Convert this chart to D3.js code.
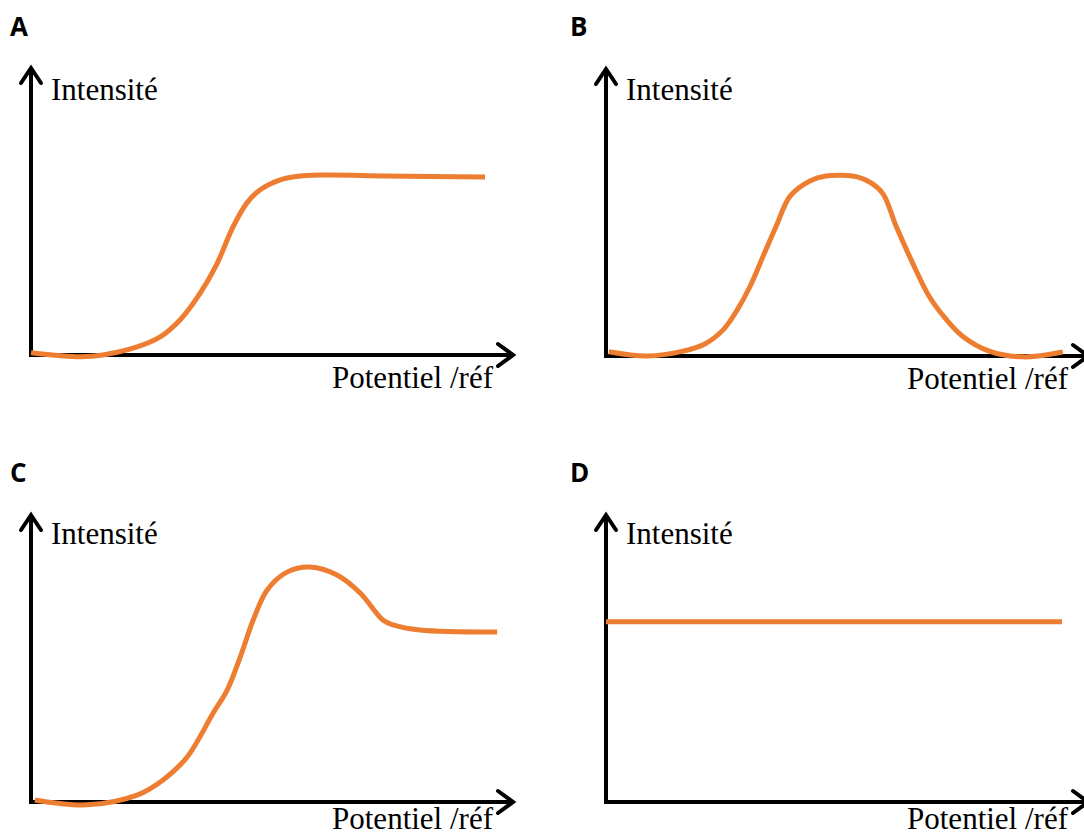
<!DOCTYPE html>
<html>
<head>
<meta charset="utf-8">
<script src="https://cdn.jsdelivr.net/npm/d3@7"></script>
<style>
  html, body { margin: 0; padding: 0; background: #fff; }
  svg { display: block; }
</style>
</head>
<body>
<svg id="chart" width="1084" height="836"></svg>
<script>
// ---- Data (potential on 0..100, intensity on 0..100) ----
const panelNames = ["A", "B", "C", "D"];
const axisTitleY = "Intensité";
const axisTitleX = "Potentiel /réf";

const potentialA = [0, 10.2, 14.9, 22, 26.8, 30.9, 35.1, 38.5, 41.9, 44.8, 47.5, 51.7, 55, 60, 73.9, 94.2];
const intensityA = [0.8, -0.6, 0, 2.8, 6.3, 12.2, 21.6, 31.5, 44.6, 53, 57.5, 61, 62.2, 62.7, 62.4, 62];

const potentialB = [0.6, 8.5, 16, 20.5, 24.3, 27.2, 29.9, 32.6, 35.3, 38.2, 42.3, 45.6, 52.1, 55, 57.5, 60.2, 63.5, 67, 70.5, 73.9, 79.5, 86.5, 94.8];
const intensityB = [1.5, 0, 1.7, 4.2, 9.1, 16, 24.3, 34.8, 45.2, 55.7, 61, 62.7, 62.4, 60.3, 56.4, 45.2, 32.8, 20.9, 12.9, 7, 1.7, -0.3, 1.4];

const potentialC = [0.8, 11.6, 22, 27.4, 32.4, 37.8, 40.7, 43.4, 46.1, 49, 53.1, 57.9, 63.5, 68.3, 73, 75.1, 80.7, 96.7];
const intensityC = [0.7, -1, 2.4, 7.7, 15.7, 31, 39, 50.5, 63.4, 73.9, 80.1, 81.9, 79.1, 72.8, 63.4, 61.7, 59.9, 59.2];

const potentialD = [0, 94.6];
const intensityD = [62.8, 62.8];

const series = {
  A: { x: potentialA, y: intensityA },
  B: { x: potentialB, y: intensityB },
  C: { x: potentialC, y: intensityC },
  D: { x: potentialD, y: intensityD }
};

// ---- Layout ----
const layout = {
  A: { ox: 31,  oy: 355, lx: 10,  ly: 36,  iy: 100, py: 388 },
  B: { ox: 606, oy: 356, lx: 570, ly: 36,  iy: 100, py: 389 },
  C: { ox: 31,  oy: 802, lx: 10,  ly: 482, iy: 544, py: 829 },
  D: { ox: 606, oy: 802, lx: 570, ly: 482, iy: 544, py: 829 }
};
const W = 482, H = 287;
const orange = "#ED7D31";

const svg = d3.select("#chart");

panelNames.forEach(name => {
  const L = layout[name];
  const x = d3.scaleLinear().domain([0, 100]).range([L.ox, L.ox + W]);
  const y = d3.scaleLinear().domain([0, 100]).range([L.oy, L.oy - H]);
  const g = svg.append("g");

  // panel letter
  g.append("text")
    .attr("x", L.lx).attr("y", L.ly)
    .attr("font-family", "'Open Sans', 'Liberation Sans', sans-serif")
    .attr("font-weight", 700)
    .attr("font-size", 26)
    .attr("fill", "#000")
    .text(name);

  // axes (no ticks), thick black lines
  const xAxis = g.append("g").attr("transform", `translate(0,${L.oy})`)
    .call(d3.axisBottom(x).tickValues([]).tickSizeOuter(0));
  const yAxis = g.append("g").attr("transform", `translate(${L.ox},0)`)
    .call(d3.axisLeft(y).tickValues([]).tickSizeOuter(0));
  [xAxis, yAxis].forEach(a => a.select(".domain")
    .attr("stroke", "#000").attr("stroke-width", 4));
  yAxis.select(".domain").attr("d", `M0,${L.oy + 2}V${y(100)}`);
  xAxis.select(".domain").attr("d", `M${L.ox - 2},0H${x(100)}`);

  // arrowheads
  const tipX = x(100), tipY = y(100);
  g.append("path")
    .attr("d", `M${tipX - 15},${L.oy - 11}L${tipX},${L.oy}L${tipX - 15},${L.oy + 11}`)
    .attr("fill", "none").attr("stroke", "#000").attr("stroke-width", 4)
    .attr("stroke-linejoin", "miter").attr("stroke-linecap", "round");
  g.append("path")
    .attr("d", `M${L.ox - 10},${tipY + 15}L${L.ox},${tipY}L${L.ox + 10},${tipY + 15}`)
    .attr("fill", "none").attr("stroke", "#000").attr("stroke-width", 4)
    .attr("stroke-linejoin", "miter").attr("stroke-linecap", "round");

  // axis titles
  g.append("text")
    .attr("x", L.ox + 20).attr("y", L.iy)
    .attr("font-family", "'Liberation Serif', 'Times New Roman', serif")
    .attr("font-size", 31).attr("fill", "#000")
    .text(axisTitleY);
  g.append("text")
    .attr("x", L.ox + 462).attr("y", L.py)
    .attr("text-anchor", "end")
    .attr("font-family", "'Liberation Serif', 'Times New Roman', serif")
    .attr("font-size", 31).attr("fill", "#000")
    .text(axisTitleX);

  // curve
  const s = series[name];
  const pts = s.x.map((v, i) => [v, s.y[i]]);
  const line = d3.line()
    .x(d => x(d[0])).y(d => y(d[1]))
    .curve(d3.curveCatmullRom.alpha(0.5));
  g.append("path")
    .datum(pts)
    .attr("d", line)
    .attr("fill", "none")
    .attr("stroke", orange)
    .attr("stroke-width", 5)
    .attr("stroke-linecap", "butt")
    .attr("stroke-linejoin", "round");
});
</script>
</body>
</html>
